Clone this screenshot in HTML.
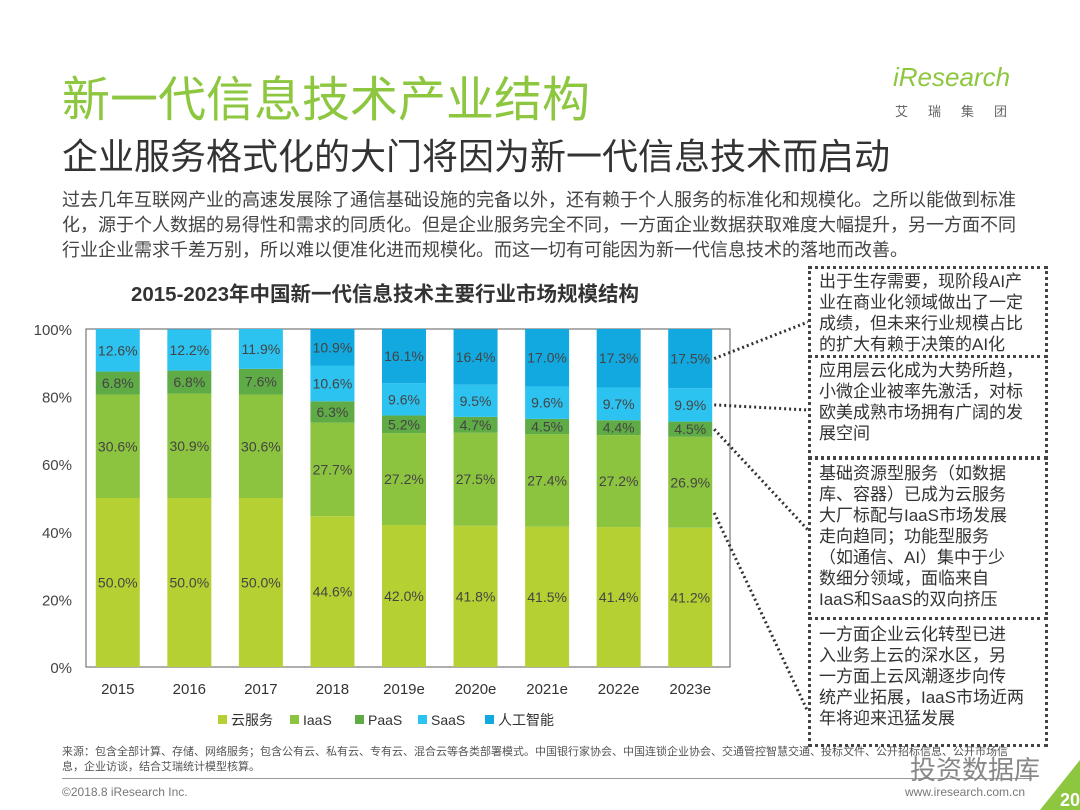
<!DOCTYPE html>
<html><head><meta charset="utf-8">
<style>
body{margin:0;width:1080px;height:810px;background:#fff;overflow:hidden;position:relative;font-family:"Liberation Sans","Noto Sans CJK SC",sans-serif;color:#333}
.abs{position:absolute}
.box{position:absolute;left:808px;width:218px;border:3px dotted #444;padding:0 8px;font-size:17px;line-height:21px;color:#333;background:#fff;white-space:nowrap;overflow:hidden}
</style></head><body>
<div class="abs" style="left:62px;top:60px;font-size:48px;color:#8dc63f;letter-spacing:0px">新一代信息技术产业结构</div>
<div class="abs" style="left:893px;top:62px;font-size:26px;color:#8dc63f;font-style:italic">iResearch</div>
<div class="abs" style="left:895px;top:101px;font-size:13px;color:#666;letter-spacing:20px">艾瑞集团</div>
<div class="abs" style="left:62px;top:128px;font-size:36px;color:#333">企业服务格式化的大门将因为新一代信息技术而启动</div>
<div class="abs" style="left:62px;top:188px;font-size:18px;line-height:25px;color:#444;white-space:nowrap">过去几年互联网产业的高速发展除了通信基础设施的完备以外，还有赖于个人服务的标准化和规模化。之所以能做到标准<br>化，源于个人数据的易得性和需求的同质化。但是企业服务完全不同，一方面企业数据获取难度大幅提升，另一方面不同<br>行业企业需求千差万别，所以难以便准化进而规模化。而这一切有可能因为新一代信息技术的落地而改善。</div>

<svg class="abs" style="left:0;top:0" width="1080" height="810" id="chart">
<text x="385" y="301" text-anchor="middle" font-size="20.5" font-weight="bold" fill="#333">2015-2023年中国新一代信息技术主要行业市场规模结构</text>
</svg>

<div class="box" style="top:266px;height:84px;padding-top:2px">出于生存需要，现阶段AI产<br>业在商业化领域做出了一定<br>成绩，但未来行业规模占比<br>的扩大有赖于决策的AI化</div>
<div class="box" style="top:355px;height:96px;padding-top:2px">应用层云化成为大势所趋，<br>小微企业被率先激活，对标<br>欧美成熟市场拥有广阔的发<br>展空间</div>
<div class="box" style="top:457px;height:154px;padding-top:3px">基础资源型服务（如数据<br>库、容器）已成为云服务<br>大厂标配与IaaS市场发展<br>走向趋同；功能型服务<br>（如通信、AI）集中于少<br>数细分领域，面临来自<br>IaaS和SaaS的双向挤压</div>
<div class="box" style="top:617px;height:120px;padding-top:4px">一方面企业云化转型已进<br>入业务上云的深水区，另<br>一方面上云风潮逐步向传<br>统产业拓展，IaaS市场近两<br>年将迎来迅猛发展</div>

<div class="abs" style="left:62px;top:745px;width:960px;font-size:11px;line-height:15px;color:#555">来源：包含全部计算、存储、网络服务；包含公有云、私有云、专有云、混合云等各类部署模式。中国银行家协会、中国连锁企业协会、交通管控智慧交通、投标文件、公开招标信息、公开市场信息，企业访谈，结合艾瑞统计模型核算。</div>
<div class="abs" style="left:62px;top:778px;width:970px;height:1px;background:#999"></div>
<div class="abs" style="left:62px;top:785px;font-size:12px;color:#777">©2018.8 iResearch Inc.</div>
<div class="abs" style="left:905px;top:785px;font-size:12px;color:#777">www.iresearch.com.cn</div>
<div class="abs" style="left:910px;top:750px;font-size:26px;color:#888">投资数据库</div>
<svg class="abs" style="left:1040px;top:760px" width="40" height="50"><polygon points="40,0 40,50 0,50" fill="#8dc63f"/><text x="20" y="46" font-size="18" fill="#fff" font-weight="bold">20</text></svg>

<script>
const years=["2015","2016","2017","2018","2019e","2020e","2021e","2022e","2023e"];
const cloud=[50.0,50.0,50.0,44.6,42.0,41.8,41.5,41.4,41.2];
const iaas=[30.6,30.9,30.6,27.7,27.2,27.5,27.4,27.2,26.9];
const paas=[6.8,6.8,7.6,6.3,5.2,4.7,4.5,4.4,4.5];
const saas=[12.6,12.2,11.9,10.6,9.6,9.5,9.6,9.7,9.9];
const ai=[0,0,0,10.9,16.1,16.4,17.0,17.3,17.5];
const yTicks=[0,20,40,60,80,100];
const seriesNames=["云服务","IaaS","PaaS","SaaS","人工智能"];
const colors=["#b5d033","#8cc43f","#5fab45","#2cc3f0","#12a9e0"];
const svg=document.getElementById('chart');
const NS="http://www.w3.org/2000/svg";
const X0=86,X1=730,Y0=667,Y1=329;
const y=v=>Y0-(v/100)*(Y0-Y1);
const step=(X1-X0)/years.length;
const xc=i=>X0+step*(i+0.5)-4;
const bw=44;
function mk(tag,attrs,parent){const e=document.createElementNS(NS,tag);for(const k in attrs)e.setAttribute(k,attrs[k]);(parent||svg).appendChild(e);return e;}
const frame=mk('rect',{x:X0,y:Y1,width:X1-X0,height:Y0-Y1,fill:'none',stroke:'#777','stroke-width':1.2});


yTicks.forEach(t=>{const e=mk('text',{x:X0-14,y:y(t)+6,'text-anchor':'end','font-size':15,fill:'#444'});e.textContent=t+'%';

});
const series=[cloud,iaas,paas,saas,ai];
years.forEach((yr,i)=>{
  let acc=0;
  series.forEach((s,k)=>{
    const v=s[i]; if(v<=0)return;
    const top=Math.min(acc+v,100);
    const r=mk('rect',{x:xc(i)-bw/2,y:y(top),width:bw,height:y(acc)-y(top),fill:colors[k]});
    
    
    const t=mk('text',{x:xc(i),y:(y(acc)+y(top))/2+5,'text-anchor':'middle','font-size':14,fill:'#444'});
    t.textContent=v.toFixed(1)+'%';
    
    
    acc+=v;
  });
  const l=mk('text',{x:xc(i),y:Y0+27,'text-anchor':'middle','font-size':15,fill:'#333'});l.textContent=yr;
  
  
});
const lx=[218,290,355,418,485];
seriesNames.forEach((n,k)=>{
  const r=mk('rect',{x:lx[k],y:715,width:9,height:9,fill:colors[k]});
  
  
  const t=mk('text',{x:lx[k]+13,y:725,'font-size':14,fill:'#333'});t.textContent=n;
  
  
});
const last=years.length-1;
function sum(a,b){let s=0;for(let k=0;k<b;k++)s+=series[k][last];return s;}
const conns=[[sum(0,4)+ai[last]/2,322],[sum(0,3)+saas[last]/2,410],[sum(0,2)+paas[last]/2,530],[cloud[last]/2+25,712]];
conns.forEach(c=>{const l=mk('line',{x1:xc(last)+bw/2+2,y1:y(c[0]),x2:808,y2:c[1],stroke:'#333','stroke-width':3,'stroke-dasharray':'2 3'});

});
</script>
</body></html>
